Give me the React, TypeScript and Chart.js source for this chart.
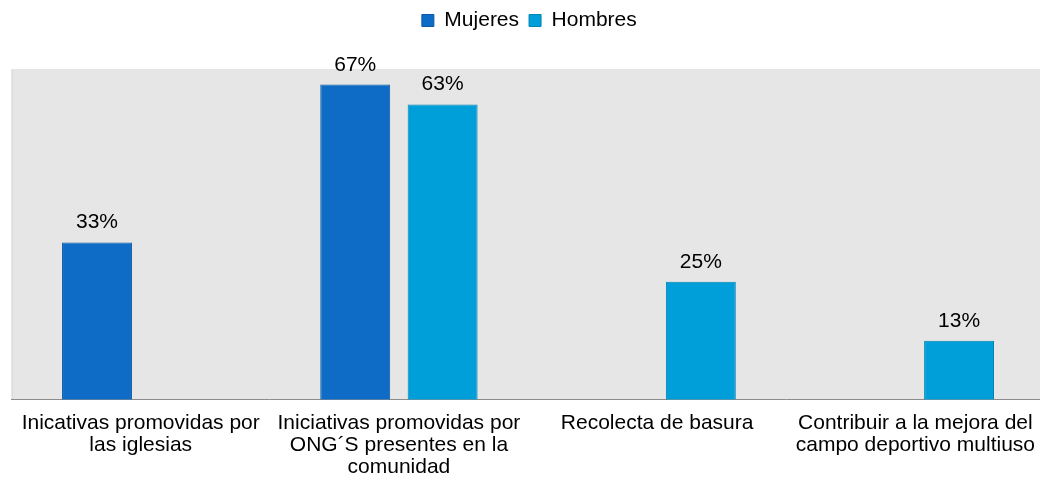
import React, { useEffect, useRef } from "react";
import { Chart, registerables } from "chart.js";

Chart.register(...registerables);

const categories: string[][] = [
  ["Inicativas promovidas por", "las iglesias"],
  ["Iniciativas promovidas por", "ONG´S presentes en la", "comunidad"],
  ["Recolecta de basura"],
  ["Contribuir a la mejora del", "campo deportivo multiuso"],
];
const mujeres: (number | null)[] = [33.3, 66.7, null, null];
const hombres: (number | null)[] = [null, 62.5, 25, 12.5];
const seriesNames = ["Mujeres", "Hombres"];

const FONT = "'Liberation Sans', Arial, sans-serif";

const bgPlugin = {
  id: "plotBg",
  beforeDraw(chart: any) {
    const { ctx, chartArea } = chart;
    ctx.save();
    ctx.fillStyle = "#E6E6E6";
    ctx.fillRect(chartArea.left, chartArea.top, chartArea.right - chartArea.left, chartArea.bottom - chartArea.top);
    ctx.strokeStyle = "#D6D6D6";
    ctx.lineWidth = 1;
    ctx.beginPath();
    ctx.moveTo(chartArea.left + 0.5, chartArea.top);
    ctx.lineTo(chartArea.left + 0.5, chartArea.bottom);
    ctx.stroke();
    ctx.restore();
  },
};

const labelPlugin = {
  id: "valueLabels",
  afterDatasetsDraw(chart: any) {
    const { ctx } = chart;
    ctx.save();
    ctx.font = `21px ${FONT}`;
    ctx.fillStyle = "#000";
    ctx.textAlign = "center";
    ctx.textBaseline = "alphabetic";
    chart.data.datasets.forEach((ds: any, di: number) => {
      const meta = chart.getDatasetMeta(di);
      meta.data.forEach((bar: any, i: number) => {
        const v = ds.data[i];
        if (v === null || v === undefined || v === 0) return;
        ctx.fillText(`${Math.round(v)}%`, bar.x, bar.y - 14);
      });
    });
    ctx.restore();
  },
};

const legendFitPlugin = {
  id: "legendFit",
  beforeInit(chart: any) {
    const legend = chart.legend;
    if (!legend) return;
    const orig = legend.fit;
    legend.fit = function () {
      orig.call(this);
      this.height = 69;
    };
  },
};

export default function App() {
  const ref = useRef<HTMLCanvasElement | null>(null);
  useEffect(() => {
    if (!ref.current) return;
    Chart.defaults.font.family = FONT;
    const chart = new Chart(ref.current, {
      type: "bar",
      data: {
        labels: categories,
        datasets: [
          {
            label: seriesNames[0],
            data: mujeres,
            backgroundColor: "#0F6CC6",
            borderColor: "#0A58A3",
            borderWidth: 1,
            categoryPercentage: 0.677,
            barPercentage: 0.8,
          },
          {
            label: seriesNames[1],
            data: hombres,
            backgroundColor: "#009FD9",
            borderColor: "#0084B3",
            borderWidth: 1,
            categoryPercentage: 0.677,
            barPercentage: 0.8,
          },
        ],
      },
      options: {
        responsive: false,
        animation: false,
        devicePixelRatio: 1,
        layout: { padding: { left: 11.6, right: 0, top: 0, bottom: -5 } },
        plugins: {
          legend: {
            position: "top",
            align: "center",
            labels: {
              boxWidth: 12,
              boxHeight: 12,
              padding: 10,
              color: "#000",
              font: { size: 21, family: FONT, lineHeight: 1.05 },
            },
          },
          tooltip: { enabled: false },
        },
        scales: {
          x: {
            grid: { display: false, drawTicks: false },
            border: { display: true, color: "#8C8C8C", width: 1 },
            ticks: {
              color: "#000",
              padding: 12,
              maxRotation: 0,
              autoSkip: false,
              font: { size: 21, family: FONT, lineHeight: 1.05 },
            },
          },
          y: {
            display: false,
            min: 0,
            max: 70,
          },
        },
      },
      plugins: [bgPlugin, labelPlugin, legendFitPlugin],
    });
    return () => chart.destroy();
  }, []);
  return (
    <div style={{ position: "fixed", left: 0, top: 0, width: 1040, height: 485, overflow: "hidden", background: "#fff" }}>
      <canvas ref={ref} width={1047} height={485} style={{ display: "block" }} />
    </div>
  );
}
